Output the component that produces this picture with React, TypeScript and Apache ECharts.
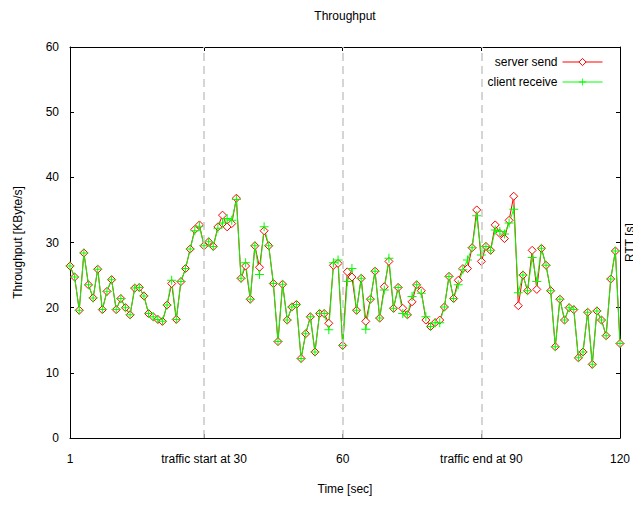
import React, { useEffect, useRef } from "react";
import * as echarts from "echarts";

const FONT = "'Liberation Sans', Arial, Helvetica, sans-serif";

// Time axis: one sample per second, starting at second 1
const FIRST_SECOND = 1;
const LAST_SECOND = 120;

const xTickValues = [1, 30, 60, 90, 120];
const xTickLabels = ["1", "traffic start at 30", "60", "traffic end at 90", "120"];
const markerSeconds = [30, 60, 90];

const yMin = 0;
const yMax = 60;
const yStep = 10;

// Throughput [KByte/s], seconds 1..120
const serverSend = [
  26.4, 24.7, 19.6, 28.4, 23.5, 21.5, 25.9, 19.7, 22.5, 24.3,
  19.7, 21.4, 20.0, 18.9, 23.0, 23.1, 21.8, 19.1, 18.6, 18.2,
  17.9, 20.4, 23.7, 18.2, 24.0, 26.0, 29.0, 32.0, 32.7, 29.5,
  30.1, 29.4, 32.4, 34.2, 32.4, 32.9, 36.8, 24.5, 26.4, 21.3,
  29.5, 26.2, 31.8, 29.5, 23.7, 14.8, 23.6, 18.1, 20.1, 20.5,
  12.2, 16.0, 18.6, 13.2, 19.1, 19.1, 17.6, 26.5, 26.8, 14.2,
  25.5, 24.7, 19.6, 24.5, 17.9, 21.3, 25.6, 18.4, 23.2, 27.1,
  19.9, 23.1, 19.9, 18.9, 20.9, 23.5, 22.6, 18.1, 17.1, 17.7,
  18.1, 20.1, 24.8, 21.4, 24.2, 26.0, 26.0, 29.2, 35.0, 27.1,
  29.4, 28.8, 32.7, 31.4, 30.6, 33.4, 37.1, 20.3, 25.0, 22.6,
  28.8, 22.8, 29.1, 26.5, 22.6, 14.0, 21.3, 18.1, 20.0, 19.7,
  12.3, 13.2, 19.3, 11.3, 19.5, 18.1, 15.7, 24.4, 28.7, 14.5,
];

const clientReceive = [
  26.4, 24.7, 19.6, 28.4, 23.5, 21.5, 25.9, 19.7, 22.5, 24.3,
  19.7, 21.4, 20.0, 18.9, 23.0, 23.1, 21.8, 19.1, 18.6, 18.2,
  17.9, 20.4, 24.2, 18.2, 24.0, 26.0, 29.0, 31.8, 32.5, 29.5,
  30.1, 29.4, 32.2, 33.0, 33.7, 33.4, 36.6, 24.5, 26.9, 21.3,
  29.5, 25.1, 32.4, 29.5, 23.7, 14.8, 23.6, 18.1, 20.1, 20.5,
  12.2, 16.0, 18.6, 13.2, 19.1, 19.1, 16.6, 26.9, 27.3, 14.2,
  24.0, 26.0, 19.6, 24.5, 16.7, 21.3, 25.6, 18.4, 22.7, 27.6,
  19.9, 23.1, 19.1, 18.9, 21.7, 23.5, 22.2, 18.6, 17.1, 17.7,
  17.7, 20.1, 24.8, 21.4, 23.5, 25.8, 27.3, 29.2, 34.1, 28.1,
  29.4, 28.8, 31.9, 31.7, 31.3, 33.0, 35.1, 22.3, 25.0, 22.6,
  27.7, 24.0, 29.1, 26.5, 22.6, 14.0, 21.3, 18.1, 20.0, 19.7,
  12.3, 13.2, 19.3, 11.3, 19.5, 18.1, 15.7, 24.4, 28.7, 14.5,
];

const toPairs = (vals: number[]) => vals.map((v, i) => [FIRST_SECOND + i, v]);

const PLUS = "path://M4,0H5V4H9V5H5V9H4V5H0V4H4Z";

export default function App() {
  const ref = useRef<HTMLDivElement>(null);

  useEffect(() => {
    if (!ref.current) return;
    const chart = echarts.init(ref.current, undefined, { renderer: "svg" });

    const axisLine = { show: true, onZero: false, lineStyle: { color: "#000", width: 1 } };
    const textBase = { color: "#000", fontSize: 12, fontFamily: FONT };

    chart.setOption({
      animation: false,
      title: {
        text: "Throughput",
        left: 345,
        top: 10,
        textAlign: "center",
        padding: 0,
        textStyle: { ...textBase, fontWeight: "normal" },
      },
      legend: {
        orient: "vertical",
        right: 25,
        top: 51,
        align: "right",
        itemWidth: 40,
        itemHeight: 9,
        itemGap: 8,
        padding: [5, 5, 6, 5],
        backgroundColor: "#fff",
        textStyle: textBase,
        lineStyle: { width: 1 },
        itemStyle: { borderWidth: 1 },
        data: ["server send", "client receive"],
      },
      grid: {
        left: 70,
        top: 47,
        width: 550,
        height: 391,
        containLabel: false,
        outerBoundsMode: "none",
      },
      xAxis: [
        {
          type: "value",
          position: "bottom",
          min: FIRST_SECOND,
          max: LAST_SECOND,
          name: "Time [sec]",
          nameLocation: "middle",
          nameGap: 45,
          nameTextStyle: textBase,
          axisLine,
          axisTick: { show: true, inside: true, length: 4, customValues: xTickValues, lineStyle: { color: "#000" } },
          axisLabel: {
            ...textBase,
            margin: 15,
            customValues: xTickValues,
            formatter: (v: number) => {
              const idx = xTickValues.indexOf(v);
              return idx >= 0 ? xTickLabels[idx] : "";
            },
          },
          splitLine: { show: false },
        },
        {
          type: "value",
          position: "top",
          min: FIRST_SECOND,
          max: LAST_SECOND,
          axisLine,
          axisTick: { show: true, inside: true, length: 4, customValues: markerSeconds, lineStyle: { color: "#000" } },
          axisLabel: { show: false },
          splitLine: { show: false },
        },
      ],
      yAxis: [
        {
          type: "value",
          position: "left",
          min: yMin,
          max: yMax,
          interval: yStep,
          name: "Throughput [KByte/s]",
          nameLocation: "middle",
          nameGap: 46,
          nameRotate: 90,
          nameTextStyle: textBase,
          axisLine,
          axisTick: { show: true, inside: true, length: 4, lineStyle: { color: "#000" } },
          axisLabel: { ...textBase, margin: 11 },
          splitLine: { show: false },
        },
        {
          type: "value",
          position: "right",
          min: yMin,
          max: yMax,
          interval: yStep,
          name: "RTT [s]",
          nameLocation: "middle",
          nameGap: 4,
          nameRotate: 90,
          nameTextStyle: textBase,
          axisLine,
          axisTick: { show: true, inside: true, length: 4, lineStyle: { color: "#000" } },
          axisLabel: { show: false },
          splitLine: { show: false },
        },
      ],
      series: [
        {
          name: "server send",
          type: "line",
          xAxisIndex: 0,
          yAxisIndex: 0,
          data: toPairs(serverSend),
          symbol: "diamond",
          symbolSize: 8,
          showAllSymbol: true,
          lineStyle: { color: "#ff0000", width: 1 },
          itemStyle: { color: "#ffffff", borderColor: "#ff0000", borderWidth: 1 },
          emphasis: { disabled: true },
          markLine: {
            silent: true,
            symbol: "none",
            label: { show: false },
            lineStyle: { color: "#c8c8c8", type: [8, 5], width: 1.5 },
            data: markerSeconds.map((s) => ({ xAxis: s })),
          },
        },
        {
          name: "client receive",
          type: "line",
          xAxisIndex: 0,
          yAxisIndex: 0,
          data: toPairs(clientReceive),
          symbol: PLUS,
          symbolSize: 9,
          showAllSymbol: true,
          lineStyle: { color: "#00ff00", width: 1 },
          itemStyle: { color: "#00ff00", borderWidth: 0 },
          emphasis: { disabled: true },
        },
      ],
    });

    return () => chart.dispose();
  }, []);

  return (
    <div
      ref={ref}
      style={{ position: "fixed", left: 0, top: 0, width: 633, height: 505, background: "#fff" }}
    />
  );
}
